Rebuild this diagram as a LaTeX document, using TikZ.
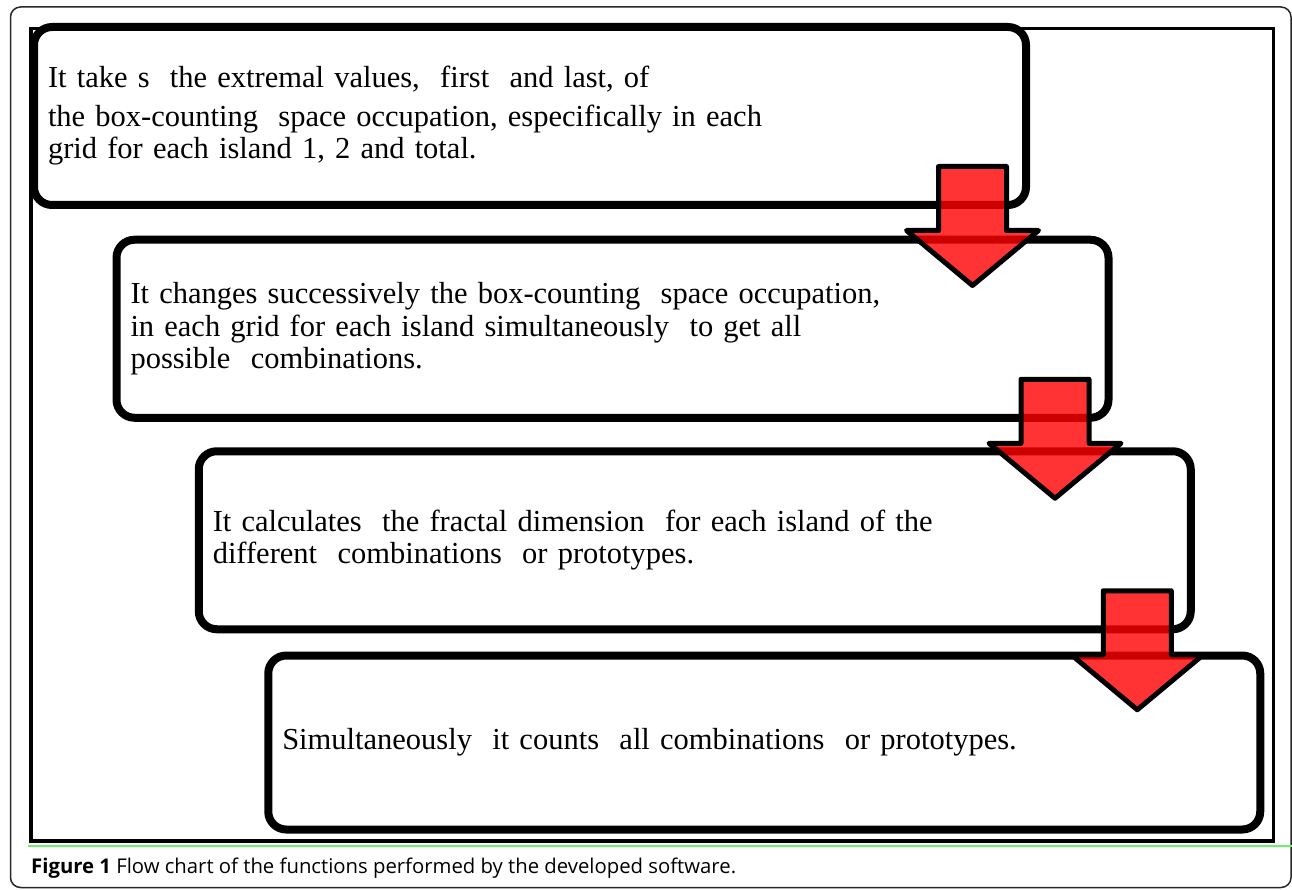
\documentclass[tikz,border=0pt]{standalone}
\usepackage{fontspec}
\setmainfont{Liberation Serif}
\newfontfamily\capfont{Open Sans}
\usetikzlibrary{calc}
\definecolor{flowred}{RGB}{255,0,0}
\definecolor{capgreen}{RGB}{110,240,110}
\definecolor{framegray}{RGB}{40,40,40}
\newcommand{\downblock}[1]{%
  \draw[blockarrow] ($(#1.south east)+(-57.5,-42.5)$) ++(-34,0) -- ++(0,64) -- ++(-32,0)
    -- ++(66,55) -- ++(66,-55) -- ++(-32,0) -- ++(0,-64) -- cycle;}

\begin{document}
\begin{tikzpicture}[x=1pt,y=-1pt,
  stepbox/.style={draw,line width=8pt,rounded corners=18pt,minimum width=992pt,
    minimum height=178pt,inner xsep=14pt,text width=964pt,align=left,
    font=\fontsize{30.5}{32.5}\selectfont},
  blockarrow/.style={draw=black,line width=5pt,line join=round,fill=flowred,fill opacity=0.8}]
\useasboundingbox (0,0) rectangle (1292,890);
\draw[framegray,line width=1.5pt,rounded corners=10pt] (10.5,7) rectangle (1291,887.5);
\draw[line width=3.5pt] (31,28.5) rectangle (1273.5,841);
\draw[capgreen,line width=1.5pt] (28,846) -- (1292,846);
\node[stepbox] (takes) at (530,116) {It take s\ \ the extremal values,\ \ first\ \ and last, of\\[6pt]
  the box-counting\ \ space occupation, especifically in each\\
  grid for each island 1, 2 and total.};
\node[stepbox] (changes) at (612.5,328.75) {It changes successively the box-counting\ \ space occupation,\\
  in each grid for each island simultaneously\ \ to get all\\
  possible\ \ combinations.};
\node[stepbox] (calculates) at (694.75,540.25) {It calculates\ \ the fractal dimension\ \ for each island of the\\
  different\ \ combinations\ \ or prototypes.};
\node[stepbox,minimum height=174pt] (counts) at (764.25,742.5) {Simultaneously\ \ it counts\ \ all combinations\ \ or prototypes.};
\downblock{takes}
\downblock{changes}
\downblock{calculates}
\node[anchor=base west,inner sep=0pt,font=\capfont\fontsize{20.3}{22}\selectfont] (caption) at (31,873)
  {\textbf{Figure 1} Flow chart of the functions performed by the developed software.};
\end{tikzpicture}
\end{document}
